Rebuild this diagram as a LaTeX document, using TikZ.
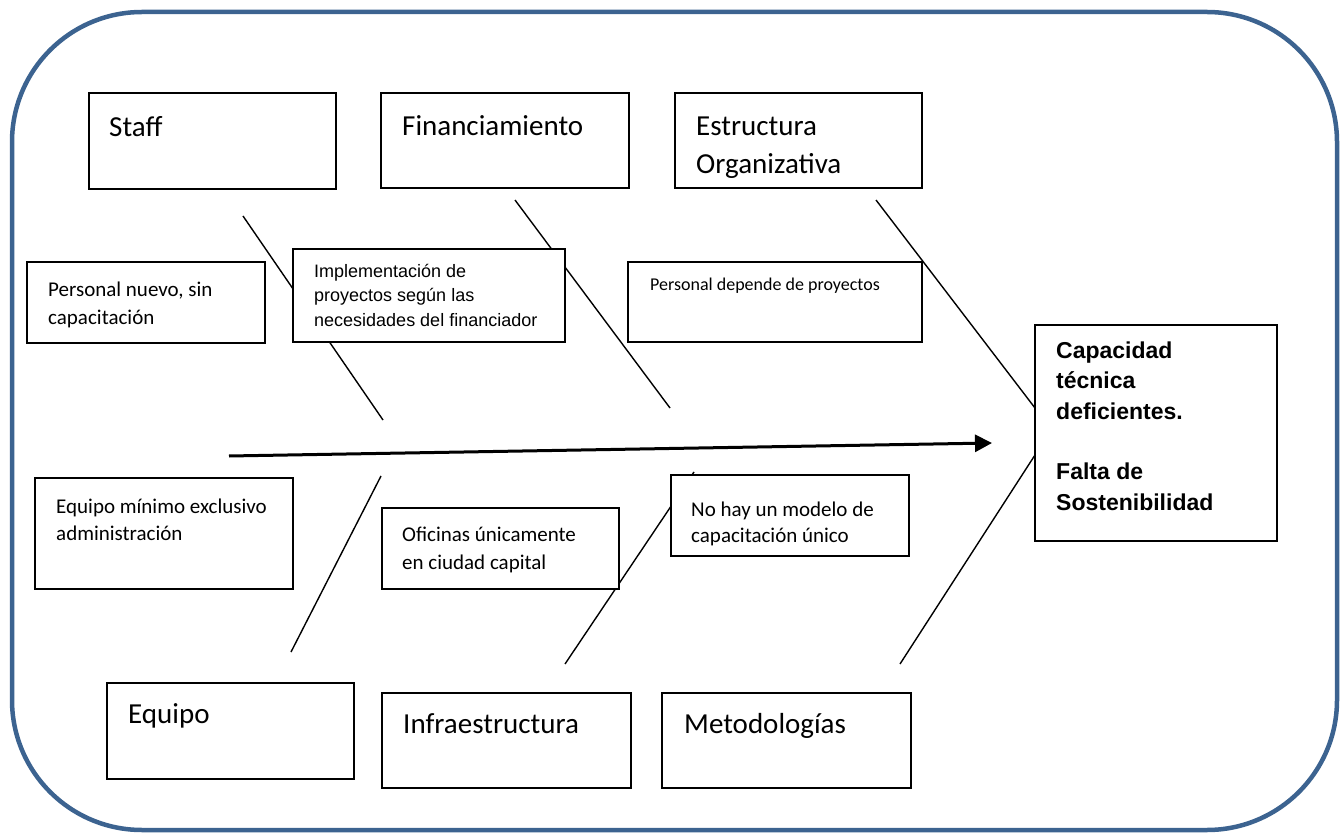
\documentclass[tikz,border=0pt]{standalone}
\usepackage{fontspec}
\setmainfont{Carlito}
\newfontfamily\arialf{Liberation Sans}
\usetikzlibrary{arrows.meta}
\definecolor{frameblue}{RGB}{60,99,144}
\begin{document}
\begin{tikzpicture}[x=1pt,y=-1pt,
  box/.style={draw=black, line width=1.6pt, fill=white, inner sep=0pt},
  bone/.style={draw=black, line width=1.4pt},
  spine/.style={draw=black, line width=3pt, -{Triangle[length=17pt,width=17pt]}},
  big/.style={font=\fontsize{29}{38}\selectfont, anchor=base west, inner sep=0pt, align=left},
  small/.style={font=\fontsize{21}{28.5}\selectfont, anchor=base west, inner sep=0pt, align=left},
  tiny/.style={font=\fontsize{18}{24}\selectfont, anchor=base west, inner sep=0pt, align=left},
  arialtxt/.style={font=\arialf\fontsize{18}{25}\selectfont, anchor=base west, inner sep=0pt, align=left},
  effecttxt/.style={font=\arialf\bfseries\fontsize{23}{30.3}\selectfont, anchor=base west, inner sep=0pt, align=left}]
\useasboundingbox (0,0) rectangle (1342,834);
% frame
\draw[frameblue, line width=4.5pt, rounded corners=130pt] (12,12) rectangle (1337,830);
% bone coordinates
\coordinate (s1) at (243,216); \coordinate (s2) at (383,420);
\coordinate (f1) at (515,200); \coordinate (f2) at (670,408);
\coordinate (e1) at (876,200); \coordinate (e2) at (1035,408);
\coordinate (q1) at (381,476); \coordinate (q2) at (291,652);
\coordinate (i1) at (694,472); \coordinate (i2) at (565,664);
\coordinate (m1) at (1035,455); \coordinate (m2) at (900,664);
\coordinate (sp1) at (229,456); \coordinate (sp2) at (992,443);
\draw[bone] (s1) -- (s2);
\draw[bone] (f1) -- (f2);
\draw[bone] (e1) -- (e2);
\draw[bone] (q1) -- (q2);
\draw[bone] (i1) -- (i2);
\draw[bone] (m1) -- (m2);
\draw[spine] (sp1) -- (sp2);
% boxes
\node[box, minimum width=247pt, minimum height=96pt] (staff) at (212.5,141) {};
\node[box, minimum width=248pt, minimum height=95pt] (fin) at (505,140.5) {};
\node[box, minimum width=247pt, minimum height=95pt] (estr) at (798.5,140.5) {};
\node[box, minimum width=238pt, minimum height=81pt] (pnuevo) at (146,302.5) {};
\node[box, minimum width=272pt, minimum height=93pt] (impl) at (429,295.5) {};
\node[box, minimum width=294pt, minimum height=80pt] (pdep) at (775,302) {};
\node[box, minimum width=242pt, minimum height=216pt] (effect) at (1156,433) {};
\node[box, minimum width=258pt, minimum height=111pt] (eqmin) at (164,533.5) {};
\node[box, minimum width=237pt, minimum height=81pt] (ofi) at (500.5,548.5) {};
\node[box, minimum width=238pt, minimum height=81pt] (nohay) at (790,515.5) {};
\node[box, minimum width=247pt, minimum height=96pt] (equipo) at (230.5,731) {};
\node[box, minimum width=249pt, minimum height=95pt] (infra) at (506.5,740.5) {};
\node[box, minimum width=249pt, minimum height=95pt] (metod) at (786.5,740.5) {};
% texts (multi-line nodes are anchored at the baseline of their last line)
\node[big] (tstaff) at (109,136.5) {Staff};
\node[big] (tfin) at (402,136) {Financiamiento};
\node[big] (testr) at (696,174) {Estructura\\Organizativa};
\node[small] (tpnuevo) at (48,325) {Personal nuevo, sin\\capacitación};
\node[arialtxt] (timpl) at (314,327) {Implementación de\\proyectos según las\\necesidades del financiador};
\node[tiny] (tpdep) at (650,291) {Personal depende de proyectos};
\node[effecttxt] (teffect) at (1056,510) {Capacidad\\técnica\\deficientes.\\[30.3pt]Falta de\\Sostenibilidad};
\node[small, font=\fontsize{21}{27}\selectfont] (teqmin) at (56,540) {Equipo mínimo exclusivo\\administración};
\node[small] (tofi) at (402,569.5) {Oficinas únicamente\\en ciudad capital};
\node[small, font=\fontsize{21}{26}\selectfont] (tnohay) at (691,542) {No hay un modelo de\\capacitación único};
\node[big] (tequipo) at (128,723) {Equipo};
\node[big] (tinfra) at (403,733) {Infraestructura};
\node[big] (tmetod) at (684,733) {Metodologías};
\end{tikzpicture}
\end{document}
